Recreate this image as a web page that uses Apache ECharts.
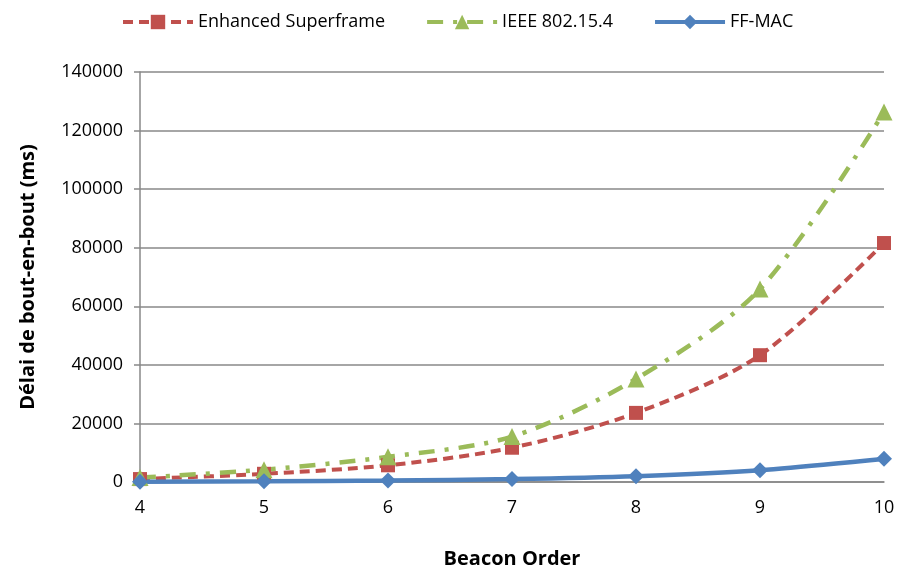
<!DOCTYPE html>
<html><head><meta charset="utf-8">
<script src="https://cdn.jsdelivr.net/npm/echarts@6/dist/echarts.min.js"></script>
<style>html,body{margin:0;padding:0;background:#fff}#c{width:898px;height:572px}</style>
</head><body><div id="c"></div>
<script>
const categories = ['4','5','6','7','8','9','10'];
const enhanced = [1000, 2800, 5700, 11700, 23600, 43300, 81600];
const ieee = [1500, 4200, 8600, 15500, 35200, 65900, 126300];
const ffmac = [125, 250, 500, 1000, 2000, 4000, 7900];
const yTicks = [0, 20000, 40000, 60000, 80000, 100000, 120000, 140000];
const FONT = '"Open Sans"';
const chart = echarts.init(document.getElementById('c'));
chart.setOption({
  animation: false,
  textStyle: {fontFamily: FONT},
  legend: {
    top: 8, left: 116, itemWidth: 70, itemHeight: 18, itemGap: 40,
    textStyle: {fontSize: 18, color: '#000', fontFamily: FONT},
    lineStyle: {width: 4},
    data: ['Enhanced Superframe', 'IEEE 802.15.4', 'FF-MAC']
  },
  grid: {left: 140, right: 14, top: 72, bottom: 90, containLabel: false, outerBoundsMode: 'none'},
  xAxis: {
    type: 'category', data: categories, boundaryGap: false,
    name: 'Beacon Order', nameLocation: 'middle', nameGap: 67,
    nameTextStyle: {fontSize: 20, fontWeight: 'bold', color: '#000', fontFamily: FONT},
    axisLine: {lineStyle: {color: '#888', width: 1.5}},
    axisTick: {show: false},
    axisLabel: {fontSize: 18, color: '#000', margin: 17, fontFamily: FONT}
  },
  yAxis: {
    type: 'value', min: yTicks[0], max: yTicks[yTicks.length - 1], interval: 20000,
    name: 'Délai de bout-en-bout (ms)', nameLocation: 'middle', nameGap: 102, nameRotate: 90,
    nameTextStyle: {fontSize: 20, fontWeight: 'bold', color: '#000', fontFamily: FONT},
    axisLine: {show: true, lineStyle: {color: '#888', width: 1.5}},
    axisTick: {show: true, length: 6, lineStyle: {color: '#888', width: 1.5}},
    axisLabel: {fontSize: 18, color: '#000', margin: 17, fontFamily: FONT,
                formatter: v => String(v)},
    splitLine: {lineStyle: {color: '#888', width: 1.5}}
  },
  series: [
    {name: 'Enhanced Superframe', type: 'line', data: enhanced, smooth: 0.3,
     symbol: 'rect', symbolSize: 14,
     itemStyle: {color: '#C0504D'},
     lineStyle: {color: '#C0504D', width: 4, type: [10, 6]}},
    {name: 'IEEE 802.15.4', type: 'line', data: ieee, smooth: 0.3,
     symbol: 'triangle', symbolSize: 17,
     itemStyle: {color: '#9BBB59'},
     lineStyle: {color: '#9BBB59', width: 4.5, type: [16, 10, 4, 10]}},
    {name: 'FF-MAC', type: 'line', data: ffmac, smooth: 0.3,
     symbol: 'diamond', symbolSize: 16,
     itemStyle: {color: '#4F81BD'},
     lineStyle: {color: '#4F81BD', width: 4.5}}
  ]
});
</script></body></html>
